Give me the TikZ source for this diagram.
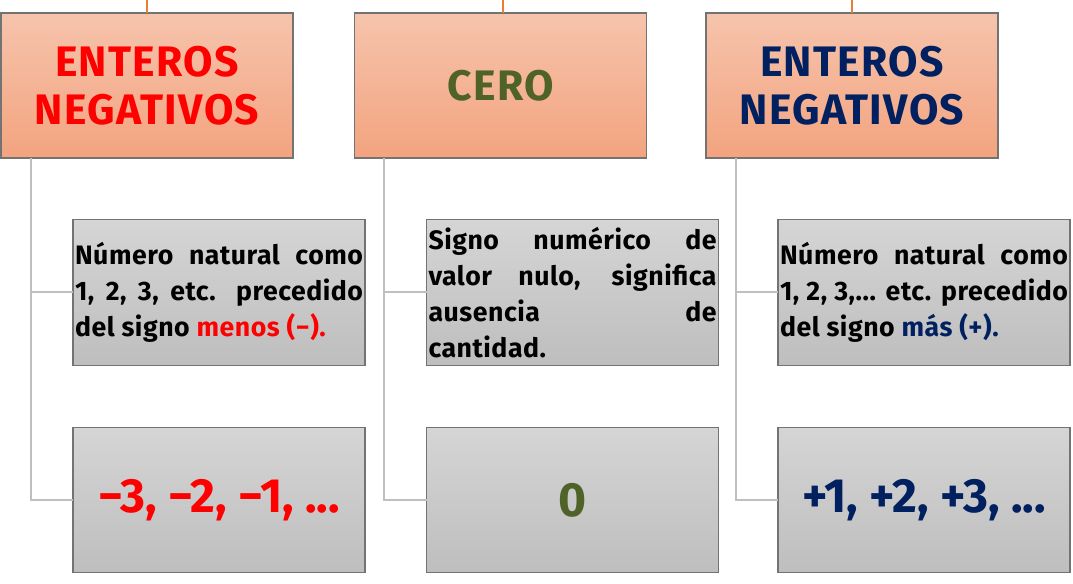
\documentclass[tikz,border=0pt]{standalone}
\usepackage{fontspec}
\setmainfont{Fira Sans}
\usetikzlibrary{positioning}
\definecolor{tred}{HTML}{FF0000}
\definecolor{tgreen}{HTML}{4F6228}
\definecolor{tnavy}{HTML}{002060}
\definecolor{peachtop}{HTML}{F6C4AC}
\definecolor{peachbot}{HTML}{F3A37F}
\definecolor{graytop}{HTML}{D5D5D5}
\definecolor{graybot}{HTML}{BEBEBE}
\definecolor{conngray}{HTML}{BFBFBF}
\definecolor{orangeln}{HTML}{ED7D31}
\tikzset{
  topbox/.style={draw=black!55, line width=0.8pt, top color=peachtop, bottom color=peachbot,
    minimum width=219pt, minimum height=108.75pt, inner sep=0pt, outer sep=0pt,
    align=center, font=\bfseries\fontsize{32}{36}\selectfont\addfontfeature{LetterSpace=3}},
  graybox/.style={draw=black!55, line width=0.8pt, top color=graytop, bottom color=graybot,
    minimum width=219pt, minimum height=109pt, inner sep=0pt, outer sep=0pt},
  desc/.style={graybox, text width=216pt, align=justify, font=\bfseries\fontsize{20}{27}\selectfont\addfontfeature{LetterSpace=2}},
  nums/.style={graybox, align=center, font=\bfseries\fontsize{36}{40}\selectfont},
  conn/.style={draw=conngray, line width=1.5pt},
  oline/.style={draw=orangeln, line width=1.5pt}
}
\begin{document}
\begin{tikzpicture}[x=0.75pt,y=-0.75pt]
\useasboundingbox (0,0) rectangle (1073,584);
% top boxes
\node[topbox, text=tred] (t1) at (147,85.5) {ENTEROS\\NEGATIVOS};
\node[topbox, text=tgreen] (t2) at (500.5,85.5) {CERO};
\node[topbox, text=tnavy] (t3) at (852,85.5) {ENTEROS\\NEGATIVOS};
% orange lines
\coordinate (o1) at (147,0);
\coordinate (o2) at (503,0);
\coordinate (o3) at (852,0);
\draw[oline] (o1) -- (o1 |- t1.north);
\draw[oline] (o2) -- (o2 |- t2.north);
\draw[oline] (o3) -- (o3 |- t3.north);
% middle boxes
\node[desc] (m1) at (219,292.5) {Número natural como\linebreak 1, 2, 3, etc. precedido\linebreak del signo \textcolor{tred}{menos (−).}};
\node[desc] (m2) at (572.5,292.5) {Signo numérico de\linebreak valor nulo, significa\linebreak ausencia de\linebreak cantidad.};
\node[desc] (m3) at (924,292.5) {Número natural como\linebreak 1, 2, 3,... etc. precedido\linebreak del signo \textcolor{tnavy}{más (+).}};
% bottom boxes
\node[nums, text=tred] (b1) at (219,500) {−3, −2, −1, ...};
\node[nums, text=tgreen] (b2) at (572.5,500) {0};
\node[nums, text=tnavy] (b3) at (924,500) {+1, +2, +3, ...};
% connectors
\path (t1.south west) ++(30,0) coordinate (a1);
\path (t2.south west) ++(29,0) coordinate (a2);
\path (t3.south west) ++(30,0) coordinate (a3);
\draw[conn] (a1) |- (m1.west);
\draw[conn] (a1) |- (b1.west);
\draw[conn] (a2) |- (m2.west);
\draw[conn] (a2) |- (b2.west);
\draw[conn] (a3) |- (m3.west);
\draw[conn] (a3) |- (b3.west);
\end{tikzpicture}
\end{document}
